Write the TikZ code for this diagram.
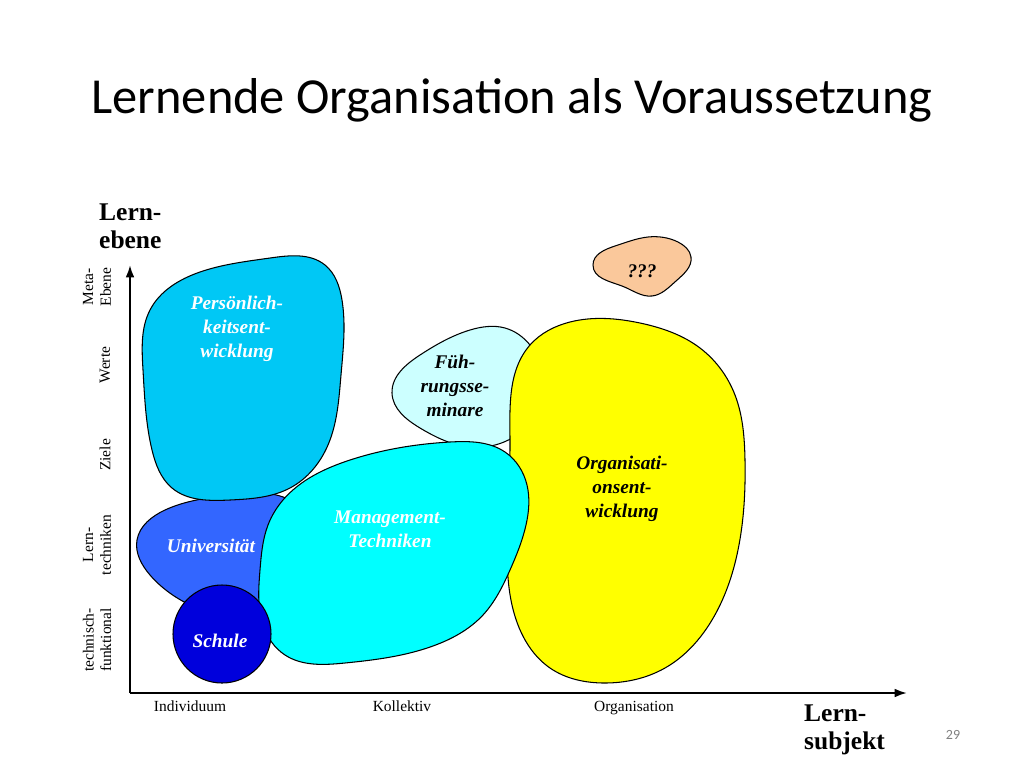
\documentclass[tikz,border=0pt]{standalone}
\usepackage{fontspec}
\setmainfont{Liberation Serif}[
  BoldFont={Liberation Serif Bold},
  ItalicFont={Liberation Serif Italic},
  BoldItalicFont={Liberation Serif Bold Italic}]
\newfontfamily\titlefont{Carlito}
\usepackage{xcolor}
\usetikzlibrary{arrows.meta,positioning,hobby}

\definecolor{persblue}{RGB}{0,200,245}
\definecolor{unimid}{RGB}{51,102,255}
\definecolor{schuldark}{RGB}{0,0,220}
\definecolor{mgmtcyan}{RGB}{0,255,255}
\definecolor{fuehrpale}{RGB}{204,255,255}
\definecolor{orgyellow}{RGB}{255,255,0}
\definecolor{quespeach}{RGB}{250,200,155}

\begin{document}
\begin{tikzpicture}[
  x=0.02cm, y=-0.02cm,
  blob/.style={draw, line width=0.6pt},
  inlbl/.style={font=\fontsize{11}{13.5}\selectfont\bfseries\itshape, align=center, text=white},
  darklbl/.style={inlbl, text=black},
  tick/.style={font=\fontsize{8.8}{10}\selectfont, align=center},
  axlbl/.style={font=\fontsize{14.5}{16}\selectfont\bfseries, align=left, anchor=west},
  axis/.style={line width=1.2pt, -{Latex[length=7pt,width=5pt]}},
]

\useasboundingbox (0,0) rectangle (1024,768);

% --- Title ---
\node[font=\titlefont\fontsize{28.7}{34}\selectfont] (title) at (512,100) {Lernende Organisation als Voraussetzung};

% --- Blobs (back to front) ---
\draw[blob, fill=fuehrpale] plot[closed hobby] coordinates {
  (392,393) (420,355) (470,330) (505,328) (530,345) (532,420) (470,447) (420,428)};
\draw[blob, fill=orgyellow] plot[closed hobby] coordinates {
  (530,345) (570,322) (640,323) (700,348) (735,395) (745,460) (738,550)
  (712,620) (665,668) (605,683) (550,668) (518,625) (507,550) (510,440)};
\draw[blob, fill=unimid] plot[closed hobby] coordinates {
  (137,540) (165,510) (230,495) (290,500) (320,555) (290,605) (190,605) (150,575)};
\draw[blob, fill=persblue] plot[closed hobby] coordinates {
  (150,310) (200,272) (270,258) (325,265) (342,300) (341,375) (328,445)
  (290,488) (230,500) (172,488) (152,450) (143,370)};
\draw[blob, fill=mgmtcyan] plot[closed hobby] coordinates {
  (283,500) (350,460) (450,442) (505,452) (527,485) (526,525) (510,570)
  (483,615) (433,646) (345,663) (285,655) (263,625) (260,570) (268,525)};
\draw[blob, fill=schuldark] (222,634) circle[radius=49];
\draw[blob, fill=quespeach] plot[closed hobby] coordinates {
  (593,265) (615,246) (648,237) (678,242) (691,257) (676,281) (652,296) (622,286)};

% --- Blob labels ---
\node[inlbl] (pers) at (237,329) {Persönlich-\\keitsent-\\wicklung};
\node[inlbl] (uni) at (211,546) {Universität};
\node[inlbl] (schule) at (220,641) {Schule};
\node[inlbl] (mgmt) at (390,529) {Management-\\Techniken};
\node[darklbl] (fuehr) at (455,386) {Füh-\\rungsse-\\minare};
\node[darklbl] (org) at (622,489) {Organisati-\\onsent-\\wicklung};
\node[darklbl] (ques) at (642,271) {???};

% --- Axes ---
\coordinate (orig) at (130,693);
\coordinate (ytop) at (130,265);
\coordinate (xend) at (907,693);
\draw[axis] (orig) -- (ytop);
\draw[axis] (orig) -- (xend);

\node[axlbl] (ylbl) at (93,226) {Lern-\\ebene};
\node[axlbl] (xlbl) at (798,730) {Lern-\\subjekt};

% --- Ticks ---
\node[tick, rotate=90] (meta) at (97,287) {Meta-\\Ebene};
\node[tick, rotate=90] (werte) at (105,365) {Werte};
\node[tick, rotate=90] (ziele) at (105,455) {Ziele};
\node[tick, rotate=90] (ltech) at (97,545) {Lern-\\techniken};
\node[tick, rotate=90] (tfunk) at (97,640) {technisch-\\funktional};

\node[tick, anchor=base] (indiv) at (190,711) {Individuum};
\node[tick, anchor=base] (koll) at (402,711) {Kollektiv};
\node[tick, anchor=base] (orga) at (634,711) {Organisation};

% --- Page number ---
\node[font=\titlefont\fontsize{8}{10}\selectfont, text=gray] (pg) at (953,735) {29};

\end{tikzpicture}
\end{document}
